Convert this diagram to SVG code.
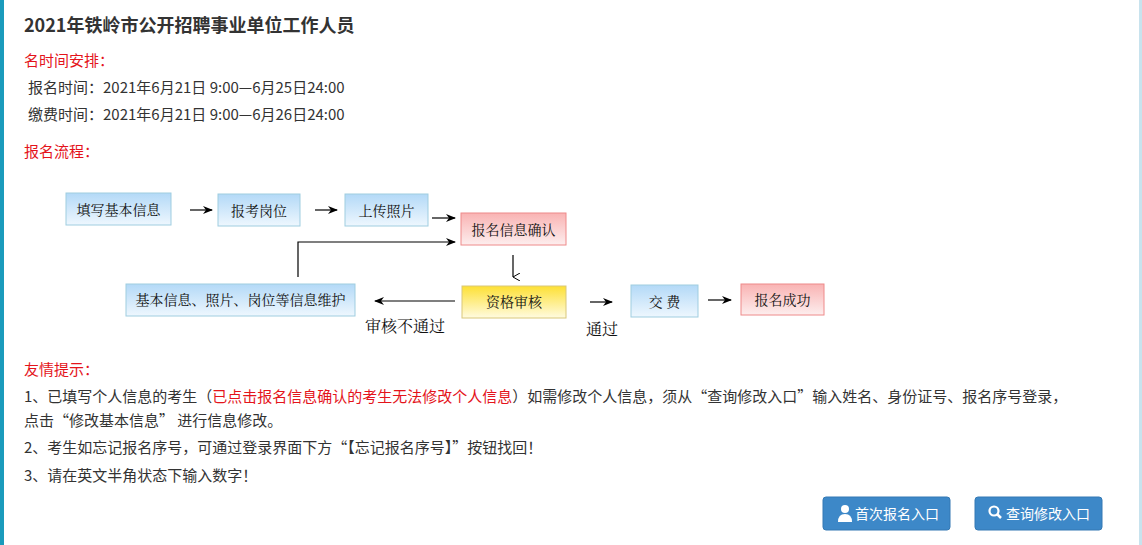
<svg xmlns="http://www.w3.org/2000/svg" width="1142" height="545" viewBox="0 0 1142 545">
<defs>
<linearGradient id="gb" x1="0" y1="0" x2="0" y2="1"><stop offset="0" stop-color="#b3d9f7"/><stop offset="1" stop-color="#eef7fe"/></linearGradient>
<linearGradient id="gr" x1="0" y1="0" x2="0" y2="1"><stop offset="0" stop-color="#f9b3b3"/><stop offset="1" stop-color="#fdeeee"/></linearGradient>
<linearGradient id="gy" x1="0" y1="0" x2="0" y2="1"><stop offset="0" stop-color="#fde034"/><stop offset="1" stop-color="#fffbe0"/></linearGradient>
<marker id="ah" markerWidth="10" markerHeight="8" refX="9" refY="4" orient="auto" markerUnits="userSpaceOnUse"><path d="M0,0 L10,4 L0,8 L3,4 Z" fill="#000"/></marker>
<marker id="as" markerWidth="8" markerHeight="8" refX="4" refY="7" orient="auto-start-reverse" markerUnits="userSpaceOnUse"><path d="M0,0 L4,7 L8,0" fill="none" stroke="#000"/></marker>
</defs>
<style>
text{font-family:"Microsoft YaHei","Noto Sans CJK SC",sans-serif;font-size:15px;fill:#333}
.r{fill:#e4141b}
.n{font-family:"Noto Serif CJK SC","Noto Sans CJK SC",serif;font-size:14px;fill:#111}
.b{stroke:#9fcde0}.rr{stroke:#ee8a8a}.y{stroke:#d9c87a}
.c line,.c path{stroke:#000;stroke-width:1.2;fill:none}
.btn{fill:#3d88c8;stroke:#3479b4}
.bt{fill:#fff;font-size:14px}
</style>
<rect x="0" y="0" width="1142" height="545" fill="#fff"/>
<rect x="0" y="0" width="4" height="545" fill="#1a9bbc"/>
<rect x="1139" y="0" width="3" height="545" fill="#c8e3ee"/>
<text x="24" y="32" style="font-size:18px;font-weight:bold;fill:#333">2021年铁岭市公开招聘事业单位工作人员</text>
<text x="24" y="66" class="r">名时间安排：</text>
<text x="28" y="93">报名时间：2021年6月21日 9:00—6月25日24:00</text>
<text x="28" y="120">缴费时间：2021年6月21日 9:00—6月26日24:00</text>
<text x="24" y="157" class="r">报名流程：</text>
<g id="n1"><rect x="66" y="193" width="105" height="32" fill="url(#gb)" class="b"/><text x="118.5" y="215" class="n" text-anchor="middle">填写基本信息</text></g>
<g id="n2"><rect x="218" y="194" width="82" height="32" fill="url(#gb)" class="b"/><text x="259" y="216" class="n" text-anchor="middle">报考岗位</text></g>
<g id="n3"><rect x="345" y="194" width="83" height="32" fill="url(#gb)" class="b"/><text x="386.5" y="216" class="n" text-anchor="middle">上传照片</text></g>
<g id="n4"><rect x="461" y="213" width="105" height="32" fill="url(#gr)" class="rr"/><text x="513.5" y="235" class="n" text-anchor="middle">报名信息确认</text></g>
<g id="n5"><rect x="462" y="286" width="104" height="32" fill="url(#gy)" class="y"/><text x="514" y="307" class="n" text-anchor="middle">资格审核</text></g>
<g id="n6"><rect x="126" y="284" width="229" height="32" fill="url(#gb)" class="b"/><text x="240.5" y="305" class="n" text-anchor="middle">基本信息、照片、岗位等信息维护</text></g>
<g id="n7"><rect x="631" y="285" width="67" height="32" fill="url(#gb)" class="b"/><text x="664.5" y="307" class="n" text-anchor="middle">交  费</text></g>
<g id="n8"><rect x="741" y="284" width="83" height="31" fill="url(#gr)" class="rr"/><text x="782.5" y="305" class="n" text-anchor="middle">报名成功</text></g>
<g class="c">
<line x1="190" y1="210" x2="212" y2="210" marker-end="url(#ah)"/>
<line x1="315" y1="210" x2="337" y2="210" marker-end="url(#ah)"/>
<line x1="432" y1="218" x2="455" y2="218" marker-end="url(#ah)"/>
<path d="M298,277 V242 H455" marker-end="url(#ah)"/>
<line x1="513" y1="255" x2="513" y2="277" marker-end="url(#as)"/>
<line x1="455" y1="301" x2="375" y2="301" marker-end="url(#ah)"/>
<line x1="590" y1="302" x2="612" y2="302" marker-end="url(#ah)"/>
<line x1="708" y1="300" x2="731" y2="300" marker-end="url(#ah)"/>
</g>
<text x="365" y="332" class="n" style="font-size:16px">审核不通过</text>
<text x="586" y="335" class="n" style="font-size:16px">通过</text>
<text x="24" y="375" class="r">友情提示：</text>
<text x="24" y="402">1、已填写个人信息的考生（<tspan class="r">已点击报名信息确认的考生无法修改个人信息</tspan>）如需修改个人信息，须从“查询修改入口”输入姓名、身份证号、报名序号登录，</text>
<text x="24" y="426">点击“修改基本信息” 进行信息修改。</text>
<text x="24" y="453">2、考生如忘记报名序号，可通过登录界面下方“【忘记报名序号】”按钮找回！</text>
<text x="24" y="481">3、请在英文半角状态下输入数字！</text>
<g id="btn1"><rect x="823" y="497" width="127" height="33" rx="3" class="btn"/>
<circle cx="845" cy="509" r="4" fill="#fff"/><path d="M838,522 Q838,514 845,514 Q852,514 852,522 Z" fill="#fff"/>
<text x="855" y="519" class="bt">首次报名入口</text></g>
<g id="btn2"><rect x="975" y="497" width="127" height="33" rx="3" class="btn"/>
<circle cx="994" cy="511" r="4.5" fill="none" stroke="#fff" stroke-width="2.2"/><line x1="997" y1="514" x2="1001" y2="518" stroke="#fff" stroke-width="2.5"/>
<text x="1006" y="519" class="bt">查询修改入口</text></g>
</svg>
